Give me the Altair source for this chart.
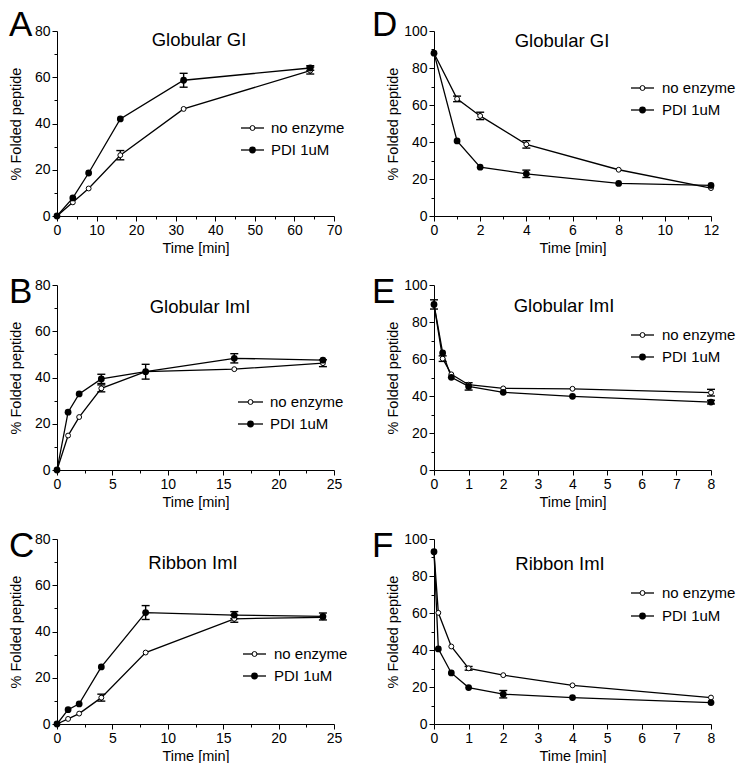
import altair as alt
import pandas as pd

FONT = "Liberation Sans"

# ---------------- data ----------------
series_names = ["no enzyme", "PDI 1uM"]
x_title = "Time [min]"
y_title = "% Folded peptide"

# A  Globular GI (oxidative folding)
a_time = [0, 4, 8, 16, 32, 64]
a_none = [0, 5.9, 11.9, 26.3, 46.3, 62.9]
a_none_err = [0, 0, 0, 2.0, 0, 1.5]
a_pdi = [0, 7.8, 18.6, 42.0, 58.7, 64.0]
a_pdi_err = [0, 0, 0, 0, 3.0, 1.0]

# B  Globular ImI
b_time = [0, 1, 2, 4, 8, 16, 24]
b_none = [0, 14.9, 22.9, 35.3, 42.5, 43.6, 46.2]
b_none_err = [0, 0, 0, 1.5, 0, 0, 1.5]
b_pdi = [0, 25.0, 32.9, 39.4, 42.5, 48.3, 47.5]
b_pdi_err = [0, 0, 0, 2.0, 3.2, 2.0, 0]

# C  Ribbon ImI
c_time = [0, 1, 2, 4, 8, 16, 24]
c_none = [0, 2.2, 4.5, 11.4, 30.9, 45.5, 46.1]
c_none_err = [0, 0, 0, 1.5, 0, 1.5, 0]
c_pdi = [0, 6.2, 8.7, 24.7, 48.2, 47.1, 46.5]
c_pdi_err = [0, 0, 0, 0, 3.0, 1.5, 1.5]

# D  Globular GI (reshuffling)
d_time = [0, 1, 2, 4, 8, 12]
d_none = [88.0, 63.3, 54.1, 38.7, 25.0, 15.1]
d_none_err = [0, 1.5, 2.0, 2.0, 0, 0]
d_pdi = [88.0, 40.6, 26.4, 22.8, 17.6, 16.5]
d_pdi_err = [0, 0, 0, 2.0, 0, 0]

# E  Globular ImI
e_time = [0, 0.25, 0.5, 1, 2, 4, 8]
e_none = [89.5, 60.2, 51.7, 46.1, 44.1, 43.9, 41.8]
e_none_err = [0, 1.5, 0, 0, 0, 0, 1.8]
e_pdi = [89.5, 63.3, 50.1, 45.2, 42.0, 39.8, 36.7]
e_pdi_err = [2.5, 0, 0, 2.0, 0, 0, 1.0]

# F  Ribbon ImI
f_time = [0, 0.125, 0.5, 1, 2, 4, 8]
f_none = [93.1, 60.1, 41.9, 30.1, 26.4, 20.9, 14.3]
f_none_err = [0, 0, 0, 1.0, 0, 0, 0]
f_pdi = [93.1, 40.6, 27.6, 19.7, 16.1, 14.3, 11.6]
f_pdi_err = [0, 0, 0, 0, 2.0, 0, 0]

# axis tick positions
x_ticks_a = [0, 5, 10, 15, 20, 25, 30, 35, 40, 45, 50, 55, 60, 65, 70]
x_ticks_bc = [0, 2.5, 5, 7.5, 10, 12.5, 15, 17.5, 20, 22.5, 25]
x_ticks_d = [0, 1, 2, 3, 4, 5, 6, 7, 8, 9, 10, 11, 12]
x_ticks_ef = [0, 1, 2, 3, 4, 5, 6, 7, 8]
y_ticks_80 = [0, 10, 20, 30, 40, 50, 60, 70, 80]
y_ticks_100 = [0, 10, 20, 30, 40, 50, 60, 70, 80, 90, 100]

W, H = 277, 185


def make_panel(letter, title, time, none, none_err, pdi, pdi_err,
               x_ticks, x_major, y_ticks, title_x, title_y,
               leg_line, leg_text_x, leg_rows, letter_x, letter_y, y_title_pad):
    rows = []
    for name, vals, errs in [(series_names[0], none, none_err),
                             (series_names[1], pdi, pdi_err)]:
        for t, v, e in zip(time, vals, errs):
            rows.append({"t": t, "v": v, "lo": v - e, "hi": v + e,
                         "e": e, "series": name})
    df = pd.DataFrame(rows)
    base = alt.Chart(df)

    xs = alt.Scale(domain=[x_ticks[0], x_ticks[-1]], nice=False, zero=False)
    ys = alt.Scale(domain=[y_ticks[0], y_ticks[-1]], nice=False, zero=False)
    x_axis = alt.Axis(
        values=x_ticks, title=x_title,
        labelExpr=f"datum.value % {x_major} === 0 ? datum.label : ''",
        tickSize={"condition": {"test": f"datum.value % {x_major} === 0", "value": 5}, "value": 3},
        labelFlush=False, labelOverlap=False, titlePadding=4, grid=False,
    )
    y_axis = alt.Axis(
        values=y_ticks, title=y_title,
        labelExpr="datum.value % 20 === 0 ? datum.label : ''",
        tickSize={"condition": {"test": "datum.value % 20 === 0", "value": 5}, "value": 3},
        labelOverlap=False, titlePadding=y_title_pad, grid=False,
    )
    X = alt.X("t:Q", scale=xs, axis=x_axis)

    lines = base.mark_line(color="black", strokeWidth=1.3).encode(
        x=X, y=alt.Y("v:Q", scale=ys, axis=y_axis), detail="series:N")
    errs = base.transform_filter("datum.e > 0")
    err_rule = errs.mark_rule(color="black", strokeWidth=1.4).encode(
        x=X, y=alt.Y("lo:Q", scale=ys, axis=y_axis), y2="hi:Q")
    cap_lo = errs.mark_rule(color="black", strokeWidth=1.4, xOffset=-4, x2Offset=4).encode(
        x=X, x2="t:Q", y=alt.Y("lo:Q", scale=ys, axis=y_axis))
    cap_hi = errs.mark_rule(color="black", strokeWidth=1.4, xOffset=-4, x2Offset=4).encode(
        x=X, x2="t:Q", y=alt.Y("hi:Q", scale=ys, axis=y_axis))
    open_pts = base.transform_filter(alt.datum.series == series_names[0]).mark_circle(
        size=24, fill="white", stroke="black", strokeWidth=1, opacity=1).encode(
        x=X, y=alt.Y("v:Q", scale=ys, axis=y_axis))
    fill_pts = base.transform_filter(alt.datum.series == series_names[1]).mark_circle(
        size=46, color="black", opacity=1).encode(
        x=X, y=alt.Y("v:Q", scale=ys, axis=y_axis))

    one = alt.Chart(pd.DataFrame({"k": [0]}))
    title_txt = one.mark_text(font=FONT, fontSize=18.5, align="center",
                              baseline="alphabetic", color="black").encode(
        x=alt.value(title_x), y=alt.value(title_y), text=alt.value(title))
    letter_txt = one.mark_text(font=FONT, fontSize=35, align="left",
                               baseline="top", color="black").encode(
        x=alt.value(letter_x), y=alt.value(letter_y), text=alt.value(letter))

    legend_layers = []
    cx = (leg_line[0] + leg_line[1]) / 2
    for i, name in enumerate(series_names):
        ry = leg_rows[i]
        legend_layers.append(one.mark_rule(color="black", strokeWidth=1.3).encode(
            x=alt.value(leg_line[0]), x2=alt.value(leg_line[1]), y=alt.value(ry)))
        if i == 0:
            legend_layers.append(one.mark_circle(size=24, fill="white", stroke="black",
                                                 strokeWidth=1, opacity=1).encode(
                x=alt.value(cx), y=alt.value(ry)))
        else:
            legend_layers.append(one.mark_circle(size=46, color="black", opacity=1).encode(
                x=alt.value(cx), y=alt.value(ry)))
        legend_layers.append(one.mark_text(font=FONT, fontSize=15, align="left",
                                           baseline="middle", color="black").encode(
            x=alt.value(leg_text_x), y=alt.value(ry), text=alt.value(name)))

    return alt.layer(lines, err_rule, cap_lo, cap_hi, open_pts, fill_pts,
                     title_txt, letter_txt, *legend_layers).properties(width=W, height=H)


pA = make_panel("A", "Globular GI", a_time, a_none, a_none_err, a_pdi, a_pdi_err,
                x_ticks_a, 10, y_ticks_80, 142, 15, (184, 207), 214, (97, 119), -48, -23, 11)
pD = make_panel("D", "Globular GI", d_time, d_none, d_none_err, d_pdi, d_pdi_err,
                x_ticks_d, 2, y_ticks_100, 128, 16, (197, 220), 228, (57, 79), -62, -23, 3)
pB = make_panel("B", "Globular ImI", b_time, b_none, b_none_err, b_pdi, b_pdi_err,
                x_ticks_bc, 5, y_ticks_80, 143, 28, (181, 206), 213, (117, 139), -48, -10, 11)
pE = make_panel("E", "Globular ImI", e_time, e_none, e_none_err, e_pdi, e_pdi_err,
                x_ticks_ef, 1, y_ticks_100, 130, 27, (197, 220), 228, (50, 72), -62, -10, 3)
pC = make_panel("C", "Ribbon ImI", c_time, c_none, c_none_err, c_pdi, c_pdi_err,
                x_ticks_bc, 5, y_ticks_80, 136, 30, (186, 209), 217, (115, 137), -48, -10, 11)
pF = make_panel("F", "Ribbon ImI", f_time, f_none, f_none_err, f_pdi, f_pdi_err,
                x_ticks_ef, 1, y_ticks_100, 126, 31, (197, 220), 228, (54, 77), -62, -10, 3)

chart = alt.concat(pA, pD, pB, pE, pC, pF, columns=2,
                   spacing={"row": 69, "column": 100}, bounds="flush").properties(
    padding=0
).configure_view(stroke=None).configure_axis(
    domainColor="black", domainWidth=1, tickColor="black", tickWidth=1,
    labelColor="black", titleColor="black", labelFont=FONT, titleFont=FONT,
    labelFontSize=14, titleFontSize=14.5, titleFontWeight="normal", labelPadding=2,
)

chart.save("out.html", embed_options={"renderer": "svg", "actions": False})
